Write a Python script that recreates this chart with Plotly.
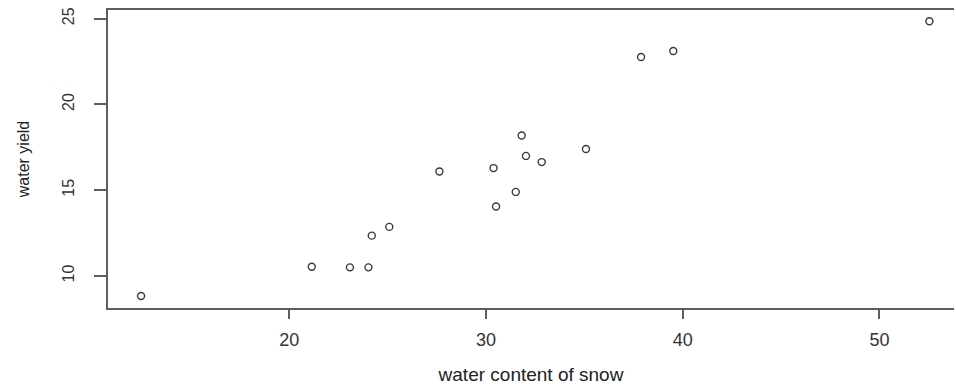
import plotly.graph_objects as go

# water content of snow (x) and water yield (y)
snow_water = [12.46, 21.14, 23.08, 24.02, 24.19, 25.08, 27.63, 30.38, 30.51,
              31.51, 31.81, 32.03, 32.83, 35.08, 37.88, 39.52, 52.54]
water_yield = [8.83, 10.54, 10.50, 10.50, 12.35, 12.86, 16.09, 16.29, 14.05,
               14.90, 18.19, 17.00, 16.64, 17.40, 22.77, 23.12, 24.85]

x_ticks = [20, 30, 40, 50]
y_ticks = [10, 15, 20, 25]

axis_col = "#5e5e5e"
font_fam = "Liberation Sans, Arial, sans-serif"

fig = go.Figure()
fig.add_trace(go.Scatter(
    x=snow_water, y=water_yield, mode="markers",
    marker=dict(symbol="circle-open", size=7, color="#3a3a3a",
                line=dict(width=1.4, color="#3a3a3a")),
    showlegend=False, hoverinfo="x+y",
))

fig.update_layout(
    width=956, height=391,
    margin=dict(l=108, r=2, t=10, b=83),
    paper_bgcolor="white", plot_bgcolor="white",
    font=dict(family=font_fam, color="#333333"),
)
fig.update_xaxes(
    range=[10.78, 53.79], tickvals=x_ticks, ticktext=[str(v) for v in x_ticks],
    showgrid=False, zeroline=False,
    showline=True, linecolor=axis_col, linewidth=2, mirror=True,
    ticks="outside", ticklen=9, tickwidth=1.5, tickcolor=axis_col,
    tickfont=dict(size=18, family=font_fam, color="#333333"),
    ticklabelstandoff=5,
    title=dict(text="water content of snow", font=dict(size=19, family=font_fam, color="#222222"),
               standoff=19),
)
fig.update_yaxes(
    range=[8.13, 25.51], tickvals=y_ticks, ticktext=[str(v) for v in y_ticks],
    showgrid=False, zeroline=False,
    showline=True, linecolor=axis_col, linewidth=2, mirror=False,
    ticks="outside", ticklen=12, tickwidth=1.5, tickcolor=axis_col,
    tickangle=-90,
    tickfont=dict(size=16, family=font_fam, color="#333333"),
    ticklabelstandoff=14,
    title=dict(text="water yield", font=dict(size=16, family=font_fam, color="#222222"),
               standoff=26),
)

fig.write_html("out.html", config={"displayModeBar": False},
               post_script="document.body.style.margin='0px';document.body.style.overflow='hidden';")
